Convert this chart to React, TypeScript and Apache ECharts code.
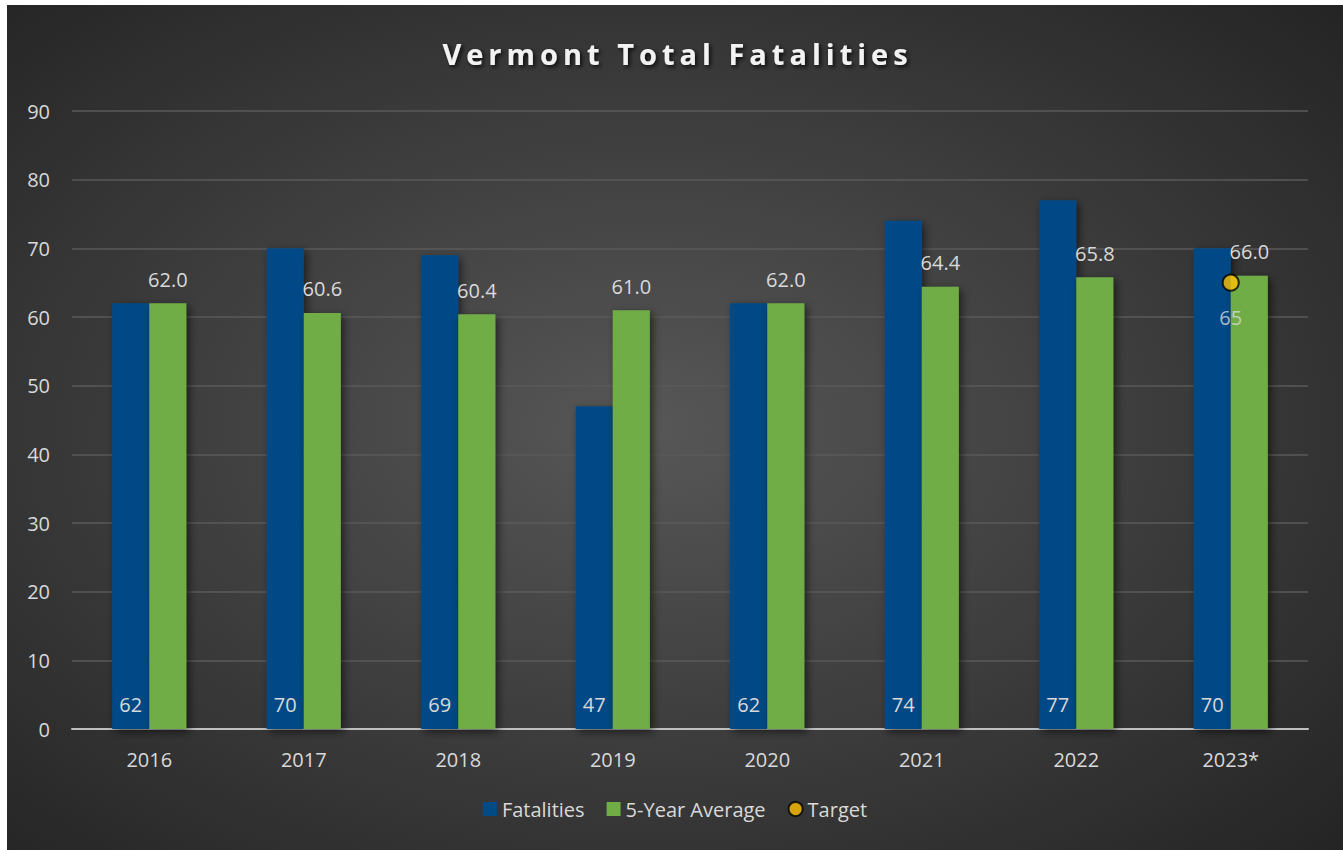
import React, { useEffect, useRef } from "react";
import * as echarts from "echarts";

const categories = ["2016", "2017", "2018", "2019", "2020", "2021", "2022", "2023*"];
const fatalities = [62, 70, 69, 47, 62, 74, 77, 70];
const fiveYearAvg = [62.0, 60.6, 60.4, 61.0, 62.0, 64.4, 65.8, 66.0];
const target: (number | string)[] = ["-", "-", "-", "-", "-", "-", "-", 65];

const TITLE = "Vermont Total Fatalities";
const FONT = "'Open Sans', sans-serif";
const TXT = "#d9d9d9";

export default function App() {
  const ref = useRef<HTMLDivElement>(null);
  useEffect(() => {
    if (!ref.current) return;
    const chart = echarts.init(ref.current, null, { renderer: "svg" });
    const shadow = {
      shadowBlur: 8,
      shadowOffsetX: 3,
      shadowOffsetY: 3,
      shadowColor: "rgba(0,0,0,0.55)",
    };
    const spaceTitle = () => {
      if (!ref.current) return;
      ref.current.querySelectorAll("text").forEach((t) => {
        if (t.textContent === TITLE) {
          t.setAttribute("letter-spacing", "5px");
          t.setAttribute("dx", "2.5");
        }
      });
    };
    chart.on("finished", spaceTitle);
    chart.setOption({
      animation: false,
      backgroundColor: {
        type: "radial",
        x: 0.48,
        y: 0.5,
        r: 0.75,
        colorStops: [
          { offset: 0, color: "#575757" },
          { offset: 1, color: "#222222" },
        ],
      },
      textStyle: { fontFamily: FONT },
      title: {
        text: TITLE,
        left: "center",
        top: 29,
        textStyle: {
          color: "#f2f2f2",
          fontSize: 29,
          fontWeight: "bold",
          fontFamily: FONT,
          textShadowColor: "rgba(0,0,0,0.8)",
          textShadowBlur: 4,
          textShadowOffsetX: 2,
          textShadowOffsetY: 2,
        },
      },
      legend: {
        bottom: 26,
        left: "center",
        itemWidth: 14,
        itemHeight: 14,
        itemGap: 22,
        textStyle: { color: TXT, fontSize: 20, fontFamily: FONT },
        data: [
          { name: "Fatalities", icon: "rect" },
          { name: "5-Year Average", icon: "rect" },
          { name: "Target", icon: "circle" },
        ],
      },
      grid: { left: 65, right: 35, top: 106, bottom: 121 },
      xAxis: {
        type: "category",
        data: categories,
        axisLine: { lineStyle: { color: "#bfbfbf", width: 2 } },
        axisTick: { show: false },
        axisLabel: { color: TXT, fontSize: 20, margin: 20, fontFamily: FONT },
      },
      yAxis: {
        type: "value",
        min: 0,
        max: 90,
        interval: 10,
        axisLine: { show: false },
        axisTick: { show: false },
        axisLabel: { color: TXT, fontSize: 20, margin: 22, fontFamily: FONT },
        splitLine: { lineStyle: { color: "#5a5a5a", width: 1.5 } },
      },
      series: [
        {
          name: "Fatalities",
          type: "bar",
          data: fatalities,
          barGap: "0%",
          barCategoryGap: "52%",
          itemStyle: { color: "#004A86", ...shadow },
          label: {
            show: true,
            position: "insideBottom",
            distance: 15,
            color: TXT,
            fontSize: 20,
            fontFamily: FONT,
          },
        },
        {
          name: "5-Year Average",
          type: "bar",
          data: fiveYearAvg,
          itemStyle: { color: "#70AD47", ...shadow },
          label: {
            show: true,
            position: "top",
            distance: 14,
            color: TXT,
            fontSize: 20,
            fontFamily: FONT,
            formatter: (p: any) => Number(p.value).toFixed(1),
          },
        },
        {
          name: "Target",
          type: "scatter",
          data: target,
          symbol: "circle",
          symbolSize: 16,
          z: 5,
          itemStyle: { color: "#FFC000", borderColor: "#000", borderWidth: 2 },
          label: {
            show: true,
            position: "bottom",
            distance: 16,
            color: TXT,
            fontSize: 20,
            fontFamily: FONT,
          },
        },
      ],
    });
    spaceTitle();
    const timer = setTimeout(spaceTitle, 50);
    return () => {
      clearTimeout(timer);
      chart.dispose();
    };
  }, []);
  return (
    <div
      ref={ref}
      style={{ position: "absolute", left: 7, top: 5, width: 1336, height: 845 }}
    />
  );
}
